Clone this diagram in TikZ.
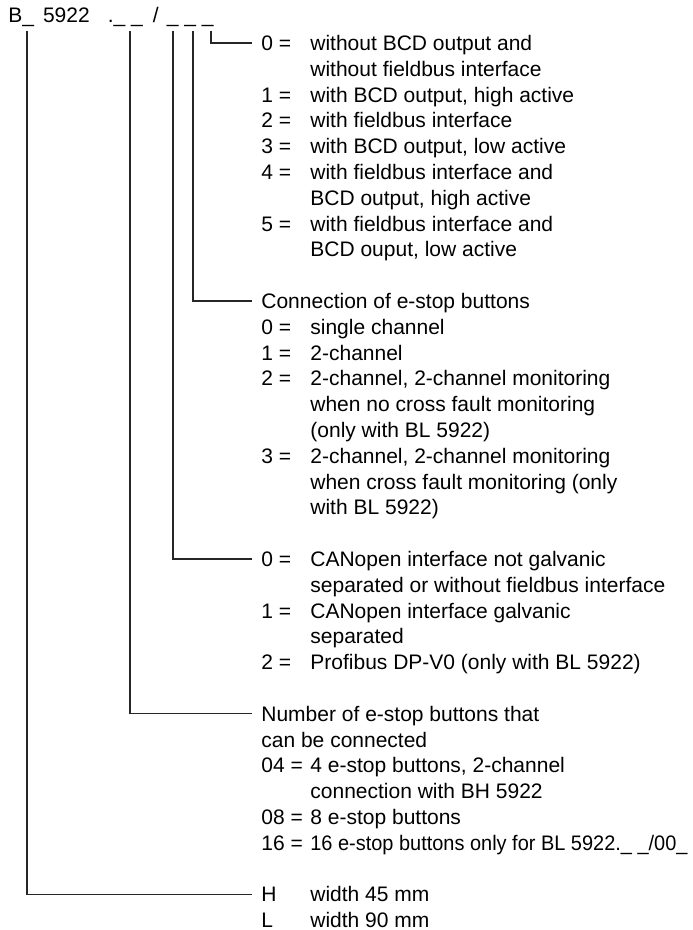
\documentclass[tikz,border=0pt]{standalone}
\usepackage{fontspec}
\setmainfont{Liberation Sans}
\begin{document}
\begin{tikzpicture}[x=0.5pt,y=-0.5pt,
        txt/.style={anchor=base west,inner xsep=4.5pt,inner ysep=0pt,
            text height=7.5pt,text depth=0pt,font=\fontsize{10.5}{12.9}\selectfont},
        conn/.style={draw,line width=0.6pt,black!85}]
        \useasboundingbox (0,0) rectangle (692,930);

        \node[txt,inner xsep=0pt] (code) at (8,22.7)
            {B\_\hspace{4.5pt}5922\hspace{9pt}.\_\ \_\hspace{5pt}/\hspace{4.1pt}\_\ \_\ \_};

        \foreach \n/\x in {a/27,b/130,c/173,d/193,e/211} {
            \coordinate (t\n) at (\x,31);
        }

        % keys and group titles
        \foreach \r/\k in {0/0 =,2/1 =,3/2 =,4/3 =,5/4 =,7/5 =,
                           10/Connection of e-stop buttons,11/0 =,12/1 =,13/2 =,16/3 =,
                           20/0 =,22/1 =,24/2 =,
                           26/Number of e-stop buttons that,27/can be connected,
                           28/04 =,30/08 =,31/16 =,33/H,34/L} {
            \node[txt] (k\r) at (252,50.5+25.8*\r) {\k};
        }

        % descriptions
        \foreach \r/\t in {0/without BCD output and,1/without fieldbus interface,
                           2/{with BCD output, high active},3/with fieldbus interface,
                           4/{with BCD output, low active},5/with fieldbus interface and,
                           6/{BCD output, high active},7/with fieldbus interface and,
                           8/{BCD ouput, low active},
                           11/single channel,12/2-channel,
                           13/{2-channel, 2-channel monitoring},14/when no cross fault monitoring,
                           15/(only with BL 5922),
                           16/{2-channel, 2-channel monitoring},17/when cross fault monitoring (only,
                           18/with BL 5922),
                           20/CANopen interface not galvanic,21/separated or without fieldbus interface,
                           22/CANopen interface galvanic,23/separated,
                           24/Profibus DP-V0 (only with BL 5922),
                           28/{4 e-stop buttons, 2-channel},29/connection with BH 5922,
                           30/8 e-stop buttons,
                           31/{\addfontfeature{FakeStretch=0.95}16 e-stop buttons only for BL 5922.\_ \_/00\_},
                           33/width 45 mm,34/width 90 mm} {
            \node[txt] (d\r) at (301,50.5+25.8*\r) {\t};
        }

        \draw[conn] (te) |- (k0.west);
        \draw[conn] (td) |- (k10.west);
        \draw[conn] (tc) |- (k20.west);
        \draw[conn] (tb) |- (k26.west);
        \draw[conn] (ta) |- (k33.west);

    \end{tikzpicture}
\end{document}
